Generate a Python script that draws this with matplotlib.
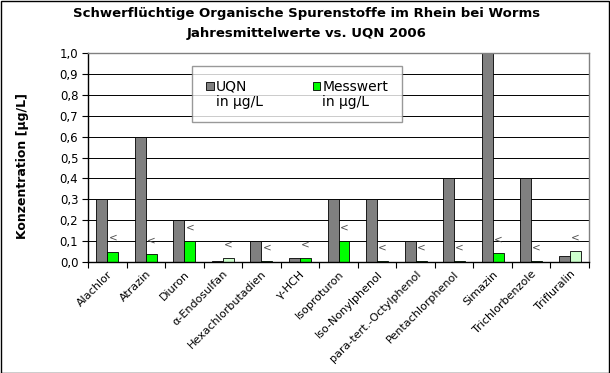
import matplotlib
matplotlib.use("Agg")
import matplotlib.pyplot as plt
from matplotlib.patches import Rectangle, Patch
import numpy as np

plt.rcParams['font.family'] = ['DejaVu Sans']

categories = ["Alachlor", "Atrazin", "Diuron", "α-Endosulfan", "Hexachlorbutadien",
              "γ-HCH", "Isoproturon", "Iso-Nonylphenol", "para-tert.-Octylphenol",
              "Pentachlorphenol", "Simazin", "Trichlorbenzole", "Trifluralin"]
uqn = [0.3, 0.6, 0.2, 0.005, 0.1, 0.02, 0.3, 0.3, 0.1, 0.4, 1.0, 0.4, 0.03]
messwert = [0.05, 0.04, 0.1, 0.018, 0.005, 0.018, 0.1, 0.005, 0.003, 0.003, 0.043, 0.005, 0.053]
below_limit = [False, False, False, True, False, False, False, False, False, False, False, False, True]
marks = ["<"] * 13
yticks = [0.0, 0.1, 0.2, 0.3, 0.4, 0.5, 0.6, 0.7, 0.8, 0.9, 1.0]
ytick_labels = ["0,0", "0,1", "0,2", "0,3", "0,4", "0,5", "0,6", "0,7", "0,8", "0,9", "1,0"]

fig = plt.figure(figsize=(6.1, 3.73), dpi=100)
ax = fig.add_axes([88/610, 1-262/373, (589-88)/610, (262-53)/373])

x = np.arange(len(categories))
w = 0.285
gray = "#808080"
green = "#00ff00"
light = "#ccffcc"

for yv in yticks[1:-1]:
    ax.axhline(yv, color="black", lw=0.7, zorder=1)

ax.bar(x - w/2, uqn, width=w, color=gray, edgecolor="black", linewidth=0.6, zorder=2)
mcolors = [light if b else green for b in below_limit]
ax.bar(x + w/2, messwert, width=w, color=mcolors, edgecolor="black", linewidth=0.6, zorder=2)

for xi, v, m in zip(x, messwert, marks):
    ax.text(xi + w/2, v + 0.065, m, ha="center", va="center", fontsize=7.5, color="#505050", zorder=3)

ax.set_xlim(-0.5, len(categories) - 0.5)
ax.set_ylim(0, 1.0)
ax.set_yticks(yticks)
ax.set_yticklabels(ytick_labels, fontsize=8.5)
ax.set_xticks(x)
ax.set_xticklabels(categories, rotation=45, ha="right", rotation_mode="anchor", fontsize=8)
ax.tick_params(axis="x", which="major", length=0, pad=5)
ax.set_xticks(np.arange(-0.5, len(categories) + 0.5, 1), minor=True)
ax.tick_params(axis="x", which="minor", length=4, width=0.8, direction="out")
ax.tick_params(axis="y", length=4, width=0.8, direction="out", pad=3)

for s in ["left", "bottom"]:
    ax.spines[s].set_color("black")
    ax.spines[s].set_linewidth(1.0)
for s in ["top", "right"]:
    ax.spines[s].set_color(gray)
    ax.spines[s].set_linewidth(1.0)

ax.set_ylabel("Konzentration [µg/L]", fontsize=9, fontweight="bold")
ax.yaxis.set_label_coords(-0.118, 0.46)

invisible = Patch(facecolor="none", edgecolor="none")
handles = [Patch(facecolor=gray, edgecolor="black", linewidth=0.6), invisible,
           Patch(facecolor=green, edgecolor="black", linewidth=0.6), invisible]
labels = ["UQN", "in µg/L", "Messwert", "in µg/L"]
leg = ax.legend(handles, labels, ncol=2,
                loc="upper left", bbox_to_anchor=(0.2076, 0.938), fontsize=10,
                frameon=True, fancybox=False, handlelength=0.55, handleheight=0.55,
                handletextpad=0.15, columnspacing=3.6, borderpad=1.0,
                labelspacing=0.05, borderaxespad=0)
leg.get_frame().set_edgecolor(gray)
leg.get_frame().set_linewidth(1.0)

fig.text(0.503, 1-14/373, "Schwerflüchtige Organische Spurenstoffe im Rhein bei Worms",
         ha="center", va="center", fontsize=9.5, fontweight="bold")
fig.text(0.503, 1-33/373, "Jahresmittelwerte vs. UQN 2006",
         ha="center", va="center", fontsize=9.5, fontweight="bold")

fig.patches.append(Rectangle((0.5/610, 0.5/373), 1-1.5/610, 1-1.5/373, transform=fig.transFigure,
                             fill=False, edgecolor="black", linewidth=1.0))

fig.savefig("out.png", dpi=100)
